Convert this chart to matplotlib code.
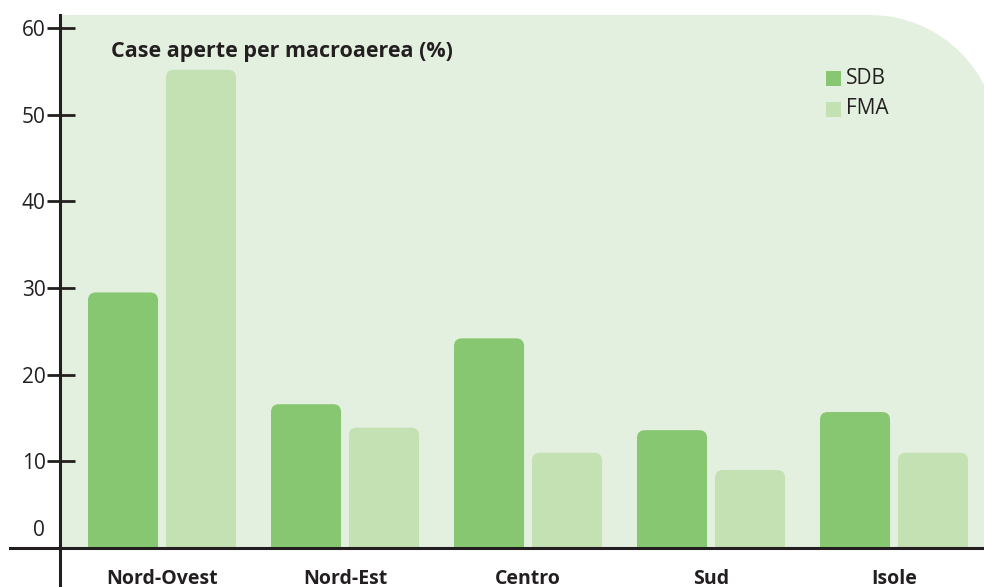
import numpy as np
import matplotlib.pyplot as plt
from matplotlib.patches import FancyBboxPatch, PathPatch, Rectangle
from matplotlib.path import Path
from matplotlib.lines import Line2D
from matplotlib.transforms import Affine2D

categories = ['Nord-Ovest', 'Nord-Est', 'Centro', 'Sud', 'Isole']
sdb = [29.5, 16.6, 24.2, 13.6, 15.7]
fma = [55.2, 13.9, 11.0, 9.0, 11.0]
yticks = [10, 20, 30, 40, 50, 60]

c_sdb = '#88c771'
c_fma = '#c4e1b3'
c_bg = '#e4f0df'
c_ink = '#231f20'

plt.rcParams['font.family'] = ['Open Sans', 'DejaVu Sans']

W, H = 984, 587
fig = plt.figure(figsize=(W / 100, H / 100), dpi=100)
# pixel coords (origin top-left) -> figure
pix = Affine2D().scale(1 / W, -1 / H).translate(0, 1) + fig.transFigure

# axes box in pixels: left 61, right 984, top 15, bottom 548
L, R, T, B = 61, 984, 15, 548
ax = fig.add_axes([L / W, 1 - B / H, (R - L) / W, (B - T) / H])
ax.set_facecolor('none')
ax.set_zorder(1)
for s in ax.spines.values():
    s.set_visible(False)

px_x = 183.0
ax.set_xlim((L - 162) / px_x, (R - 162) / px_x)
ax.set_ylim(0, (549 - T) / 8.68)

# background panel, rounded top-right corner running off the right edge
r, k = 128, 0.5523
pr = 998
verts = [(L, B), (L, T), (pr - r, T), (pr - r + k * r, T), (pr, T + r - k * r),
         (pr, T + r), (pr, B), (L, B)]
codes = [Path.MOVETO, Path.LINETO, Path.LINETO, Path.CURVE4, Path.CURVE4,
         Path.CURVE4, Path.LINETO, Path.CLOSEPOLY]
fig.patches.append(PathPatch(Path(verts, codes), facecolor=c_bg,
                             edgecolor='none', transform=pix, zorder=0))

x = np.arange(len(categories))
w = 0.383
off = 0.213
bars1 = ax.bar(x - off, sdb, w, color=c_sdb, alpha=0)
bars2 = ax.bar(x + off, fma, w, color=c_fma, alpha=0)

x_per_px = 1 / px_x
y_per_px = 1 / 8.68
aspect = y_per_px / x_per_px
rad = 8 * x_per_px
for bars, col in ((bars1, c_sdb), (bars2, c_fma)):
    for b in bars:
        fb = FancyBboxPatch((b.get_x(), -3), b.get_width(), b.get_height() + 3,
                            boxstyle=f'round,pad=0,rounding_size={rad}',
                            mutation_aspect=aspect, facecolor=col,
                            edgecolor='none', zorder=2)
        ax.add_patch(fb)

# axis lines
fig.add_artist(Line2D([60, 60], [T, H], color=c_ink, lw=2.2, transform=pix,
                      zorder=3))
fig.add_artist(Line2D([10, W], [548, 548], color=c_ink, lw=2.2, transform=pix,
                      zorder=3))

ax.set_yticks(yticks)
ax.set_yticklabels([str(v) for v in yticks])
ax.tick_params(axis='y', direction='inout', length=20, width=2, color=c_ink,
               labelsize=15, labelcolor=c_ink, pad=1)
fig.text(45, 530, '0', transform=pix, ha='right', va='center', fontsize=15,
         color=c_ink)

ax.set_xticks(x)
ax.set_xticklabels(categories, fontweight='bold', fontsize=14, color=c_ink)
ax.tick_params(axis='x', length=0, pad=15)

fig.text(111, 52, 'Case aperte per macroaerea (%)', transform=pix,
         fontsize=15.5, fontweight='bold', color=c_ink, va='center', ha='left')

# legend
for i, (lab, col) in enumerate((('SDB', c_sdb), ('FMA', c_fma))):
    yc = 78 + i * 31
    fig.add_artist(Rectangle((826, yc + 7.5), 15, -15, facecolor=col,
                             edgecolor='none', transform=pix, zorder=3))
    fig.text(846, yc, lab, transform=pix, fontsize=15, color=c_ink,
             va='center', ha='left')

fig.savefig('out.png', dpi=100)
